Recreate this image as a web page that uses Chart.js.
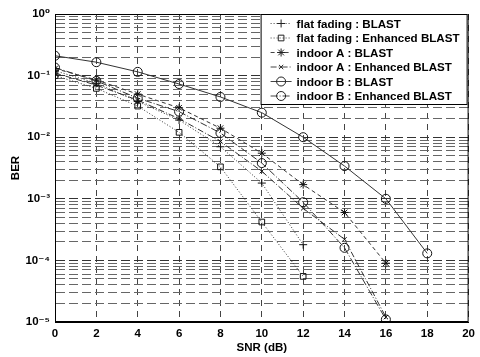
<!DOCTYPE html>
<html>
<head>
<meta charset="utf-8">
<script src="https://cdn.jsdelivr.net/npm/chart.js@4/dist/chart.umd.min.js"></script>
<style>
  html, body { margin: 0; padding: 0; background: #fff; }
  #wrap { width: 480px; height: 357px; }
</style>
</head>
<body>
<div id="wrap"><canvas id="berChart" width="480" height="357"></canvas></div>
<script>
// SNR points (dB)
const snr = [0, 2, 4, 6, 8, 10, 12, 14, 16, 18];

// BER values
const flatBlast     = [0.12, 0.075, 0.038, 0.019, 0.007, 0.0018, 0.00018];
const flatEnhanced  = [0.10, 0.062, 0.032, 0.012, 0.0033, 0.00042, 0.000055];
const indoorABlast  = [0.13, 0.085, 0.05, 0.03, 0.014, 0.0055, 0.0017, 0.0006, 0.00009];
const indoorAEnh    = [0.11, 0.07, 0.04, 0.02, 0.0085, 0.0028, 0.0007, 0.00022, 0.000012];
const indoorBBlast  = [0.21, 0.165, 0.115, 0.073, 0.045, 0.025, 0.01, 0.0034, 0.001, 0.00013];
const indoorBEnh    = [0.135, 0.082, 0.043, 0.026, 0.0117, 0.0038, 0.00088, 0.00016, 0.000011];

const xTicks = [0, 2, 4, 6, 8, 10, 12, 14, 16, 18, 20];
const decades = [-5, -4, -3, -2, -1, 0];

const sup = {'-': '\u207B', '0': '\u2070', '1': '\u00B9', '2': '\u00B2', '3': '\u00B3',
             '4': '\u2074', '5': '\u2075'};
function powLabel(e) {
  return '10' + String(e).split('').map(c => sup[c]).join('');
}

function pts(vals) {
  return vals.map((v, i) => ({ x: snr[i], y: v }));
}

const series = [
  { label: 'flat fading : BLAST', data: flatBlast, style: 'cross', r: 4, dash: [1, 2] },
  { label: 'flat fading : Enhanced BLAST', data: flatEnhanced, style: 'rect', r: 4, dash: [1, 2] },
  { label: 'indoor A : BLAST', data: indoorABlast, style: 'star', r: 4, dash: [4, 3] },
  { label: 'indoor A : Enhanced BLAST', data: indoorAEnh, style: 'crossRot', r: 3, dash: [6, 2, 1, 2] },
  { label: 'indoor B : BLAST', data: indoorBBlast, style: 'circle', r: 4.5, dash: [] },
  { label: 'indoor B : Enhanced BLAST', data: indoorBEnh, style: 'circle', r: 4.5, dash: [7, 2, 1, 2] },
];

const FONT = '"Liberation Sans", "DejaVu Sans", Arial, sans-serif';

const legendBox = {
  id: 'legendBox',
  afterDraw(chart) {
    const ctx = chart.ctx;
    const a = chart.chartArea;
    const w = 207, h = 91;
    const x0 = a.right - w - 1, y0 = a.top;
    ctx.save();
    ctx.fillStyle = '#fff';
    ctx.fillRect(x0, y0, w, h);
    ctx.strokeStyle = '#000';
    ctx.lineWidth = 1;
    ctx.setLineDash([]);
    ctx.strokeRect(x0 + 0.5, y0 + 0.5, w - 1, h - 1);
    ctx.font = 'bold 11.6px ' + FONT;
    ctx.textBaseline = 'middle';
    series.forEach((s, i) => {
      const y = y0 + 9.5 + i * 14.5;
      ctx.strokeStyle = '#444';
      ctx.setLineDash(s.dash);
      ctx.beginPath();
      ctx.moveTo(x0 + 10, y);
      ctx.lineTo(x0 + 31, y);
      ctx.stroke();
      ctx.setLineDash([]);
      ctx.strokeStyle = '#222';
      ctx.fillStyle = 'rgba(0,0,0,0)';
      Chart.helpers.drawPoint(ctx, { pointStyle: s.style, radius: s.r, borderWidth: 1 }, x0 + 20.5, y);
      ctx.fillStyle = '#000';
      ctx.fillText(s.label, x0 + 36, y + 1);
    });
    ctx.restore();
  }
};

const ctx = document.getElementById('berChart').getContext('2d');

new Chart(ctx, {
  type: 'line',
  data: {
    datasets: series.map(s => ({
      label: s.label,
      data: pts(s.data),
      borderColor: '#333',
      borderWidth: 1,
      borderDash: s.dash,
      backgroundColor: 'rgba(0,0,0,0)',
      pointStyle: s.style,
      pointRadius: s.r,
      pointBorderColor: '#111',
      pointBorderWidth: 1,
      pointBackgroundColor: 'rgba(0,0,0,0)',
      tension: 0,
    })),
  },
  options: {
    responsive: false,
    animation: false,
    layout: { padding: { left: 9, right: 9, top: 14, bottom: 0 } },
    plugins: {
      legend: { display: false },
      tooltip: { enabled: false },
    },
    scales: {
      x: {
        type: 'linear',
        min: 0,
        max: 20,
        afterBuildTicks(scale) { scale.ticks = xTicks.map(v => ({ value: v })); },
        afterFit(scale) { scale.height = 35; },
        grid: { color: '#444', lineWidth: 1, drawTicks: false },
        border: { display: true, color: '#000', dash: [6, 5] },
        ticks: {
          color: '#000',
          padding: 5,
          font: { family: FONT, size: 11.5, weight: 'bold' },
        },
        title: {
          display: true,
          text: 'SNR (dB)',
          color: '#000',
          padding: { top: 0, bottom: 2 },
          font: { family: FONT, size: 11.5, weight: 'bold' },
        },
      },
      y: {
        type: 'logarithmic',
        min: 1e-5,
        max: 1,
        afterBuildTicks(scale) {
          const t = [];
          decades.forEach(e => {
            if (e === 0) { t.push({ value: 1, major: true }); return; }
            for (let m = 1; m <= 9; m++) t.push({ value: m * Math.pow(10, e), major: m === 1 });
          });
          scale.ticks = t;
        },
        afterFit(scale) { scale.width = 46; },
        grid: {
          drawTicks: false,
          color: c => (c.tick && c.tick.major) ? '#333' : '#666',
        },
        border: { display: true, color: '#000', dash: [9, 4] },
        ticks: {
          color: '#000',
          padding: 5,
          autoSkip: false,
          font: { family: FONT, size: 11.5, weight: 'bold' },
          callback(v) {
            const e = Math.log10(v);
            return Math.abs(e - Math.round(e)) < 1e-9 ? powLabel(Math.round(e)) : '';
          },
        },
        title: {
          display: true,
          text: 'BER',
          color: '#000',
          padding: { top: 0, bottom: 2 },
          font: { family: FONT, size: 11.5, weight: 'bold' },
        },
      },
    },
  },
  plugins: [{
    id: 'frame',
    afterDatasetsDraw(chart) {
      // solid plot box on the left/bottom/right like the original
      const { ctx, chartArea: a } = chart;
      ctx.save();
      ctx.strokeStyle = '#000';
      ctx.lineWidth = 1;
      ctx.setLineDash([]);
      ctx.strokeRect(a.left + 0.5, a.top + 0.5, a.right - a.left - 1, a.bottom - a.top - 1);
      ctx.restore();
    }
  }, legendBox],
});
</script>
</body>
</html>
